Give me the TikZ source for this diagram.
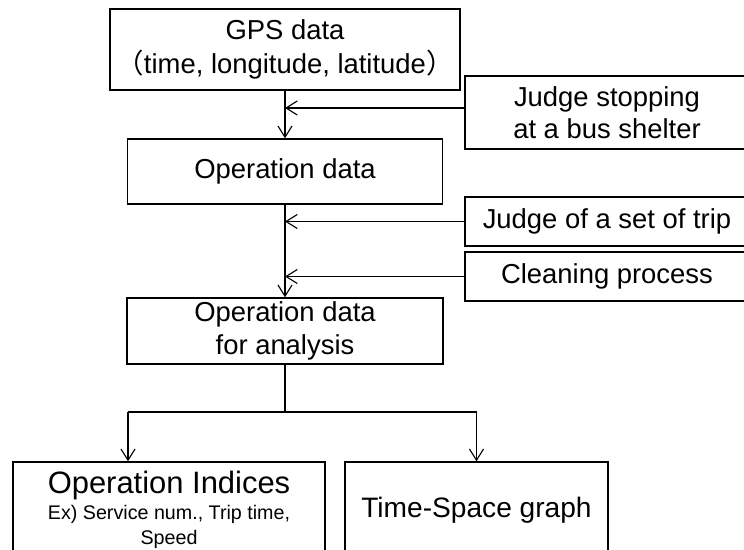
\documentclass[tikz,border=0pt]{standalone}
\usepackage{fontspec}
\setmainfont{Liberation Sans}
\newfontfamily\cjk{Noto Sans CJK SC}
\usetikzlibrary{arrows.meta}
\tikzset{procbox/.style={draw=black, line width=1pt, inner sep=0pt, align=center, font=\fontsize{19.5}{24}\selectfont},
flowline/.style={line width=0.8pt, color=black},
>={Straight Barb[length=8pt,width=10pt]}}

\begin{document}
\begin{tikzpicture}[x=0.025cm,y=-0.025cm]
\useasboundingbox (0,0) rectangle (744,550);
\clip (0,0) rectangle (744,550);
\node (gps) at (285,49.5) [procbox, minimum width=8.75cm, minimum height=2.025cm] {GPS data\\{\cjk （}time, longitude, latitude{\cjk ）}};
\node (stop) at (607,112.5) [procbox, minimum width=7.1cm, minimum height=1.825cm, font=\fontsize{19.5}{23}\selectfont] {Judge stopping\\at a bus shelter};
\node (op) at (285,171.5) [procbox, minimum width=7.875cm, minimum height=1.625cm] {Operation data};
\node (trip) at (607,221.5) [procbox, minimum width=7.1cm, minimum height=1.225cm] {Judge of a set of trip};
\node (clean) at (607,276.5) [procbox, minimum width=7.1cm, minimum height=1.225cm] {Cleaning process};
\node (ana) at (285,331) [procbox, minimum width=7.9cm, minimum height=1.65cm] {Operation data\\for analysis};
\node (idx) at (169,510) [procbox, minimum width=7.8cm, minimum height=2.4cm, font=\fontsize{14}{18}\selectfont] {{\fontsize{22}{22}\selectfont Operation Indices}\\Ex) Service num., Trip time,\\Speed};
\node (ts) at (476.5,510) [procbox, minimum width=6.575cm, minimum height=2.4cm, font=\fontsize{20}{24}\selectfont] {Time-Space graph};
% joints on the main line
\coordinate (m1) at (285,108);
\coordinate (split) at (285,412);
\coordinate (lft) at (128,412);
\coordinate (rgt) at (476.5,412);
\draw[->, flowline] (gps.south) -- (op.north);
\draw[->, flowline] (m1 -| stop.west) -- (m1);
\draw[->, flowline] (op.south) -- (ana.north);
\draw[->, flowline] (trip.west) -- (trip.west -| op.south);
\draw[->, flowline] (clean.west) -- (clean.west -| op.south);
\draw[flowline] (ana.south) -- (split);
\draw[flowline] (lft) -- (rgt);
\draw[->, flowline] (lft) -- (lft |- idx.north);
\draw[->, flowline] (rgt) -- (ts.north);
\end{tikzpicture}
\end{document}
